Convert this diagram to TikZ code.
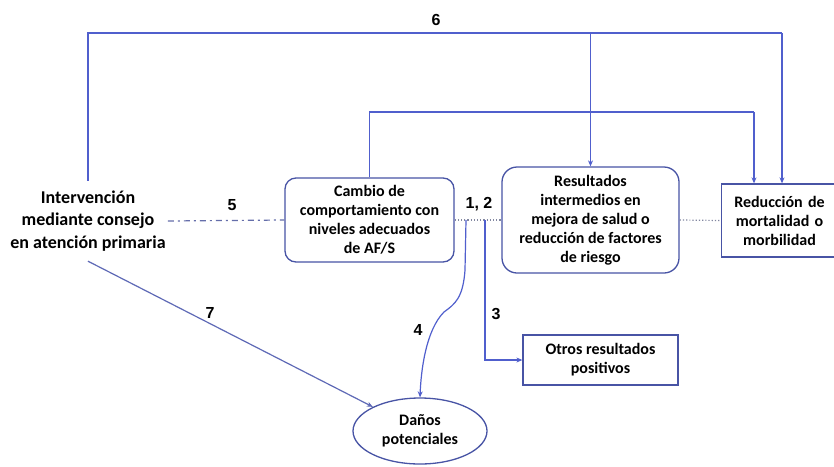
\documentclass[tikz,border=0pt]{standalone}
\usepackage{fontspec}
\setmainfont{Carlito}
\newfontfamily\numfont{Liberation Sans}
\usetikzlibrary{arrows.meta,shapes.geometric}
\definecolor{lineblue}{RGB}{80,95,205}
\definecolor{boxblue}{RGB}{72,84,165}
\definecolor{dotgray}{RGB}{130,135,160}
\begin{document}
\begin{tikzpicture}[x=1pt,y=-1pt,
  txt/.style={font=\bfseries\fontsize{16}{19}\selectfont, align=center, text=black},
  bigtxt/.style={font=\bfseries\fontsize{18}{22.5}\selectfont, align=center, text=black},
  rbox/.style={txt, draw=boxblue, line width=1.3pt, rounded corners=11pt, inner sep=0pt},
  sbox/.style={txt, draw=boxblue, line width=1.3pt, inner sep=0pt},
  conn/.style={lineblue, line width=1.2pt, -{Stealth[length=6pt,width=5pt]}},
  plain/.style={lineblue, line width=1.2pt},
  dotline/.style={dotgray, line width=1.2pt, dotted},
  dashdotline/.style={lineblue!55!gray, line width=1.2pt, dash pattern=on 6pt off 4pt on 2pt off 4pt},
  num/.style={font=\numfont\bfseries\fontsize{16}{16}\selectfont, text=black}
]
\useasboundingbox (0,0) rectangle (834,466);
\fill[white] (0,0) rectangle (834,466);

\node[bigtxt, minimum height=80pt, inner sep=2pt] (interv) at (88,221) {Intervención\\mediante consejo\\en atención primaria};
\node[rbox, minimum width=169pt, minimum height=84pt] (cambio) at (369.5,220) {Cambio de\\comportamiento con\\niveles adecuados\\de AF/S};
\node[rbox, rounded corners=15pt, minimum width=177pt, minimum height=106pt] (res) at (590.5,220) {Resultados\\intermedios en\\mejora de salud o\\reducción de factores\\de riesgo};
\node[sbox, minimum width=116pt, minimum height=73pt, text width=110pt] (reduc) at (779.5,220.5) {Reducción de\\mortalidad o\\morbilidad};
\node[sbox, minimum width=155pt, minimum height=50pt] (otros) at (600.5,360) {Otros resultados\\positivos};
\node[txt, ellipse, draw=boxblue, line width=1.3pt, minimum width=134pt, minimum height=66pt, inner sep=0pt] (danos) at (420,431) {Daños\\potenciales};

\coordinate (t6) at (782,33);
\coordinate (t1) at (754,112);
\coordinate (b4) at (466,220);
\coordinate (b3) at (485,220);

% path 6
\draw[plain] (interv.north) |- (t6);
\draw[conn] (t6) -- (t6 |- reduc.north);
\draw[conn] (res.north |- t6) -- (res.north);
% path from cambio
\draw[plain] (cambio.north) |- (t1);
\draw[conn] (t1) -- (t1 |- reduc.north);
% dotted links
\draw[dotline] (cambio.east) -- (res.west);
\draw[dotline] (res.east) -- (reduc.west);
% 5
\draw[dashdotline] (interv.east) -- (cambio.west);
% 4
\draw[conn] (b4) -- (465,270) .. controls (463,298) and (455,304) .. (444,312) .. controls (426,330) and (421,370) .. (danos.north);
% 3
\draw[conn] (b3) |- (otros.west);
% 7
\draw[conn, lineblue!70!gray] (interv.south) -- (danos);

% labels
\node[num] (l6) at (436,20) {6};
\node[num] (l5) at (232,205) {5};
\node[num] (l12) at (479,204) {1, 2};
\node[num] (l3) at (496,314) {3};
\node[num] (l4) at (418,330) {4};
\node[num] (l7) at (210,313) {7};
\end{tikzpicture}
\end{document}
